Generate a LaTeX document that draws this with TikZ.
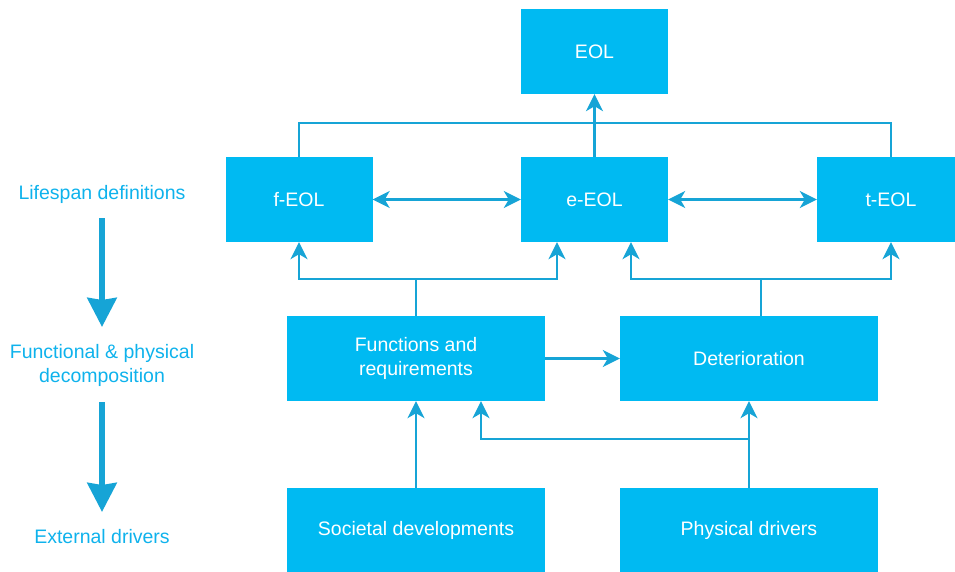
\documentclass[tikz,border=0pt]{standalone}
\usepackage{fontspec}
\setmainfont{Liberation Sans}
\usetikzlibrary{arrows.meta}
\definecolor{boxfill}{RGB}{0,186,242}
\definecolor{linecol}{RGB}{22,164,214}
\definecolor{labcol}{RGB}{14,178,236}
\tikzset{
  box/.style={fill=boxfill, draw=none, inner sep=0pt, text=white, align=center,
    font=\fontsize{19.5}{23.5}\selectfont},
  smallbox/.style={box, minimum width=147pt, minimum height=85pt},
  widebox/.style={box, minimum width=258pt, minimum height=85pt},
  conn/.style={draw=linecol, line width=2.3pt},
  tip/.style={conn, -{Stealth[length=17pt,width=17pt,inset=5pt]}},
  dtip/.style={conn, {Stealth[length=17pt,width=17pt,inset=5pt]}-{Stealth[length=17pt,width=17pt,inset=5pt]}},
  lab/.style={text=labcol, align=center, inner sep=0pt, font=\fontsize{19.5}{24}\selectfont},
  bigarrow/.style={draw=linecol, line width=6pt, -{Stealth[length=29pt,width=29pt,inset=2pt]}}
}
\begin{document}
\begin{tikzpicture}[x=1pt,y=-1pt]
\useasboundingbox (0,0) rectangle (955,572);
\clip (0,0) rectangle (955,572);
% boxes
\node[smallbox] (EOL) at (594.5,51.5) {EOL};
\node[smallbox] (fEOL) at (299,199.5) {f-EOL};
\node[smallbox] (eEOL) at (594.5,199.5) {e-EOL};
\node[smallbox, minimum width=148pt] (tEOL) at (891,199.5) {t-EOL};
\node[widebox] (func) at (416,358.5) {Functions and\\requirements};
\node[widebox] (det) at (749,358.5) {Deterioration};
\node[widebox] (soc) at (416,530.5) {Societal developments};
\node[widebox] (phys) at (749,530.5) {Physical drivers};
% left labels
\node[lab] (l1) at (102,194) {Lifespan definitions};
\node[lab] (l2) at (102,365) {Functional \& physical\\decomposition};
\node[lab] (l3) at (102,537) {External drivers};
\draw[bigarrow, shorten <=24pt, shorten >=38pt] (l1.center) -- (l2.center);
\draw[bigarrow, shorten <=37pt, shorten >=25pt] (l2.center) -- (l3.center);
% top connections
\coordinate (top) at (594.5,123);
\draw[conn] (fEOL.north) |- (top) -| (tEOL.north);
\draw[tip] (eEOL.north) -- (EOL.south);
\draw[dtip] (fEOL.east) -- (eEOL.west);
\draw[dtip] (eEOL.east) -- (tEOL.west);
% functions to f-EOL / e-EOL
\coordinate (fj) at (416,279);
\draw[conn] (func.north) -- (fj);
\draw[tip] (fj) -| (fEOL.south);
\draw[tip] (fj) -| ([xshift=-37.5pt]eEOL.south);
% deterioration to e-EOL / t-EOL
\coordinate (dj) at (761,279);
\draw[conn] ([xshift=12pt]det.north) -- (dj);
\draw[tip] (dj) -| ([xshift=36.5pt]eEOL.south);
\draw[tip] (dj) -| (tEOL.south);
% middle
\draw[tip] (func.east) -- (det.west);
\draw[tip] (soc.north) -- (func.south);
\draw[tip] (phys.north) -- (det.south);
\coordinate (pj) at (749,439);
\draw[tip] (pj) -| ([xshift=65pt]func.south);
\end{tikzpicture}
\end{document}
